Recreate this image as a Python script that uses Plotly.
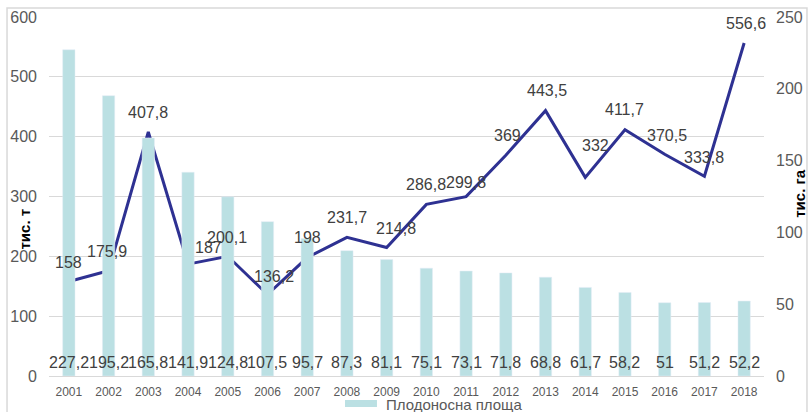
import plotly.graph_objects as go

years = [str(y) for y in range(2001, 2019)]
production = [158, 175.9, 407.8, 187, 200.1, 136.2, 198, 231.7, 214.8, 286.8,
              299.8, 369, 443.5, 332, 411.7, 370.5, 333.8, 556.6]
area = [227.2, 195.2, 165.8, 141.9, 124.8, 107.5, 95.7, 87.3, 81.1, 75.1,
        73.1, 71.8, 68.8, 61.7, 58.2, 51, 51.2, 52.2]
left_title = "тис. т"
right_title = "тис. га"
bar_name = "Плодоносна площа"
line_name = "Производство"

# label nudges (px) for line labels, styling only
lbl_dx = [0, -2, 0, 20, -1, 7, 0, 0, 9, 0, 0, 2, 1, 10, 0, 2, 0, 2]
lbl_dy = [19, 19, 20, 17, 19, 18, 20, 20, 19, 20, 14, 20, 20, 32, 20, 19, 19, 19]

FONT = "Liberation Sans, Arial, sans-serif"
BAR_COLOR = "#BBE0E3"
LINE_COLOR = "#2E3192"
TXT = "#404040"

def fmt(v):
    s = ("%g" % v)
    return s.replace(".", ",")

fig = go.Figure()
fig.add_trace(go.Bar(x=years, y=area, name=bar_name, marker_color=BAR_COLOR,
                     yaxis="y2", showlegend=False))
fig.add_trace(go.Scatter(x=years, y=production, name=line_name, mode="lines",
                         line=dict(color=LINE_COLOR, width=3), showlegend=False))

ann = []
for i, v in enumerate(production):
    ann.append(dict(x=i, y=v, xref="x", yref="y", text=fmt(v), showarrow=False,
                    xanchor="center", yanchor="middle", xshift=lbl_dx[i], yshift=lbl_dy[i],
                    font=dict(family=FONT, size=16, color=TXT)))
for i, v in enumerate(area):
    ann.append(dict(x=i, y=0, xref="x", yref="y2", text=fmt(v), showarrow=False,
                    xanchor="center", yanchor="middle", yshift=14,
                    font=dict(family=FONT, size=16, color=TXT)))

# axis titles
ann.append(dict(x=-0.034, y=0.41, xref="paper", yref="paper", text="<b>%s</b>" % left_title,
                textangle=-90, showarrow=False, xanchor="center", yanchor="middle",
                font=dict(family=FONT, size=15, color="#000000")))
ann.append(dict(x=1.05, y=0.507, xref="paper", yref="paper", text="<b>%s</b>" % right_title,
                textangle=-90, showarrow=False, xanchor="center", yanchor="middle",
                font=dict(family=FONT, size=15, color="#000000")))
# legend text
ann.append(dict(x=0.4685, y=-0.079, xref="paper", yref="paper", text=bar_name,
                showarrow=False, xanchor="left", yanchor="middle",
                font=dict(family=FONT, size=15, color="#595959")))

shapes = [
    dict(type="rect", xref="paper", yref="paper", x0=0.414, x1=0.4587, y0=-0.0864, y1=-0.0669,
         fillcolor=BAR_COLOR, line=dict(width=0)),
    dict(type="rect", xref="paper", yref="paper", x0=-0.0587, x1=1.0601, y0=-0.13, y1=1.0251,
         fillcolor="rgba(0,0,0,0)", line=dict(color="#D9D9D9", width=1.5)),
]

fig.update_layout(
    width=809, height=412,
    margin=dict(l=49, r=45, t=17, b=36, autoexpand=False),
    paper_bgcolor="white", plot_bgcolor="white",
    bargap=0.69,
    font=dict(family=FONT, color="#595959"),
    xaxis=dict(type="category", range=[-0.5, len(years) - 0.5], showgrid=False, showline=True,
               linecolor="#D9D9D9", linewidth=1, automargin=False,
               ticks="", tickfont=dict(size=12, color="#595959"), ticklabelstandoff=5),
    yaxis=dict(range=[0, 600], dtick=100, showgrid=True, gridcolor="#D9D9D9", gridwidth=1,
               zeroline=False, showline=False, ticks="", tickfont=dict(size=16, color="#595959"),
               ticklabelstandoff=11, automargin=False),
    yaxis2=dict(range=[0, 250], dtick=50, overlaying="y", side="right", showgrid=False,
                zeroline=False, showline=False, ticks="", tickfont=dict(size=16, color="#595959"),
                ticklabelstandoff=11, automargin=False),
    annotations=ann,
    shapes=shapes,
    showlegend=False,
)

fig.write_html("out.html")
